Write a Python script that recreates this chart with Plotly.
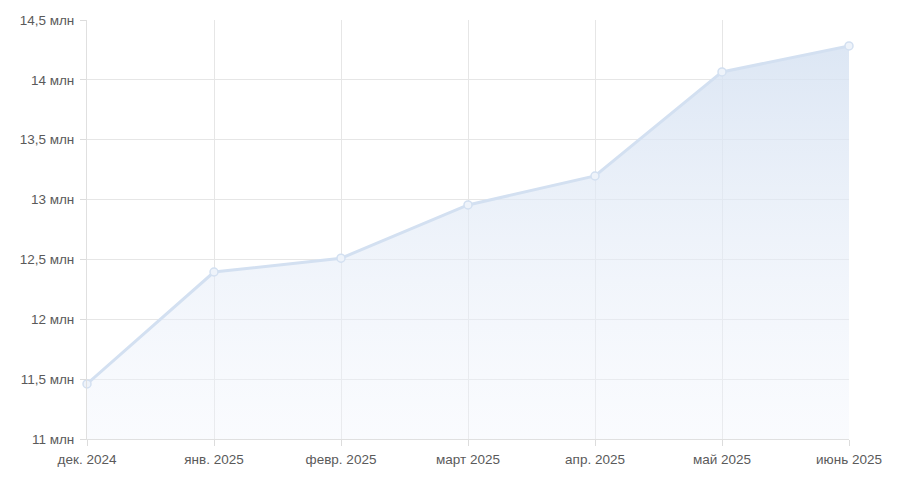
import plotly.graph_objects as go

months = ["дек. 2024", "янв. 2025", "февр. 2025", "март 2025", "апр. 2025", "май 2025", "июнь 2025"]
values = [11.46, 12.395, 12.51, 12.955, 13.197, 14.066, 14.283]
y_ticks = [11, 11.5, 12, 12.5, 13, 13.5, 14, 14.5]
y_tick_labels = ["11 млн", "11,5 млн", "12 млн", "12,5 млн", "13 млн", "13,5 млн", "14 млн", "14,5 млн"]

x_idx = list(range(len(months)))

fig = go.Figure()
fig.add_trace(go.Scatter(
    x=x_idx, y=[v * 1e6 for v in values],
    mode="lines+markers",
    line=dict(color="#d3e0f1", width=3),
    marker=dict(size=8, color="#eef3fa", line=dict(color="#d3e0f1", width=1.5)),
    fill="tozeroy",
    fillgradient=dict(type="vertical",
                      colorscale=[[0, "rgba(240,244,252,0.35)"], [1, "rgba(214,226,242,0.85)"]],
                      start=11e6, stop=14.3e6),
    cliponaxis=False,
    hoverinfo="skip",
))

fig.update_layout(
    width=884, height=474,
    margin=dict(l=79, r=43, t=12, b=43),
    paper_bgcolor="white", plot_bgcolor="white",
    showlegend=False,
    font=dict(family="Liberation Sans, Arial, sans-serif", size=13.5, color="#5a5a5a"),
)
fig.update_xaxes(
    range=[0, 6], tickvals=x_idx, ticktext=months,
    showgrid=True, gridcolor="#e6e6e6", gridwidth=1,
    ticks="outside", ticklen=6, tickcolor="#dcdcdc",
    showline=True, linecolor="#e0e0e0", zeroline=False,
    tickfont=dict(size=13.5, color="#5a5a5a"),
    automargin=False, ticklabelstandoff=2,
)
fig.update_yaxes(
    range=[11e6, 14.5e6], tickvals=[t * 1e6 for t in y_ticks], ticktext=y_tick_labels,
    showgrid=True, gridcolor="#e6e6e6", gridwidth=1,
    ticks="outside", ticklen=6, tickcolor="#dcdcdc",
    showline=True, linecolor="#e0e0e0", zeroline=False,
    tickfont=dict(size=13.5, color="#5a5a5a"),
    automargin=False, ticklabelstandoff=3,
)

fig.write_html("out.html")
